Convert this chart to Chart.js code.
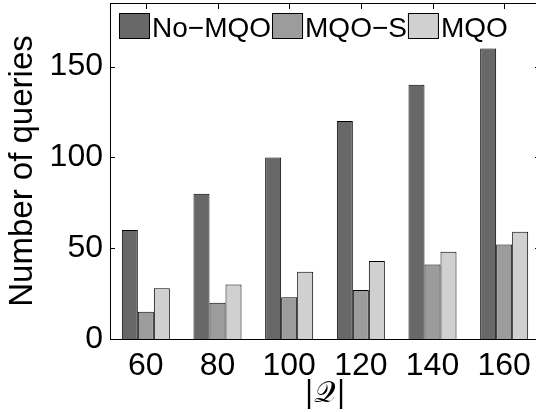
<!DOCTYPE html>
<html>
<head>
<meta charset="utf-8">
<script src="https://cdn.jsdelivr.net/npm/chart.js@4.4.0/dist/chart.umd.min.js"></script>
<style>
  html,body{margin:0;padding:0;background:#fff;overflow:hidden;}
  #wrap{width:541px;height:412px;}
</style>
</head>
<body>
<div id="wrap"><canvas id="cv"></canvas></div>
<script>
// Grouped bars: number of queries per |Q| for three strategies
const categories = ['60','80','100','120','140','160'];
const noMqo = [60, 80, 100, 120, 140, 160];
const mqoS  = [15, 20, 23, 27, 41, 52];
const mqo   = [28, 30, 37, 43, 48, 59];
const yTicks = [0, 50, 100, 150];
const seriesNames = ['No\u2212MQO', 'MQO\u2212S', 'MQO'];
const seriesColors = ['#686868', '#9c9c9c', '#d0d0d0'];

const FONT = '"Liberation Sans", Arial, Helvetica, sans-serif';

// MATLAB-like box: top line plus inward tick marks on all sides
const boxTicks = {
  id:'boxTicks',
  beforeDatasetsDraw(chart){
    const {ctx, chartArea:a, scales:{x, y}} = chart;
    ctx.save();
    ctx.strokeStyle = '#000';
    ctx.lineWidth = 1;
    ctx.beginPath();
    ctx.moveTo(a.left, a.top + 0.5); ctx.lineTo(a.right, a.top + 0.5);
    yTicks.forEach(v=>{
      const py = Math.round(y.getPixelForValue(v)) + 0.5;
      ctx.moveTo(a.left, py); ctx.lineTo(a.left + 5, py);
      ctx.moveTo(a.right, py); ctx.lineTo(a.right - 5, py);
    });
    categories.forEach((c, i)=>{
      const px = Math.round(x.getPixelForValue(i)) + 0.5;
      ctx.moveTo(px, a.top); ctx.lineTo(px, a.top + 6);
      ctx.moveTo(px, a.bottom); ctx.lineTo(px, a.bottom - 6);
    });
    ctx.stroke();
    ctx.restore();
  }
};

// tightly packed legend in the top-left corner, as in the original figure
const packedLegend = {
  id:'packedLegend',
  afterDraw(chart){
    const {ctx, chartArea:a} = chart;
    ctx.save();
    ctx.font = '28px ' + FONT;
    ctx.textBaseline = 'alphabetic';
    let x = a.left + 9;
    const top = a.top + 10, bw = 31, bh = 26;
    chart.data.datasets.forEach(ds=>{
      ctx.fillStyle = ds.backgroundColor;
      ctx.fillRect(x, top, bw, bh);
      ctx.strokeStyle = '#000';
      ctx.lineWidth = 1;
      ctx.strokeRect(x + 0.5, top + 0.5, bw - 1, bh - 1);
      x += bw + 2;
      ctx.fillStyle = '#000';
      ctx.fillText(ds.label, x, top + 24);
      x += ctx.measureText(ds.label).width + 1;
    });
    ctx.restore();
  }
};

const mk = (i, data)=>({
  label: seriesNames[i], data,
  backgroundColor: seriesColors[i],
  borderColor:'#000', borderWidth:1,
  barPercentage:1.0, categoryPercentage:0.67
});

new Chart(document.getElementById('cv'), {
  type:'bar',
  data:{
    labels: categories,
    datasets:[mk(0, noMqo), mk(1, mqoS), mk(2, mqo)]
  },
  plugins:[boxTicks, packedLegend],
  options:{
    responsive:true,
    maintainAspectRatio:false,
    animation:false,
    layout:{padding:{top:3, right:1, left:0, bottom:0}},
    plugins:{legend:{display:false}, tooltip:{enabled:false}},
    scales:{
      x:{
        grid:{display:false, drawTicks:false},
        border:{display:true, color:'#000', width:1},
        ticks:{color:'#000', font:{family:FONT, size:32}, padding:8, maxRotation:0},
        title:{display:true, text:'|\u{1D4AC}|', color:'#000',
               font:{family:'"DejaVu Serif", "Liberation Serif", serif', size:30}, padding:{top:-6, bottom:0}},
        afterFit(s){ s.height = 73; s.paddingLeft = 0; s.paddingRight = 0; }
      },
      y:{
        min:0, max:185,
        grid:{display:false, drawTicks:false},
        border:{display:true, color:'#000', width:1},
        ticks:{color:'#000', font:{family:FONT, size:32}, padding:7},
        afterBuildTicks(s){ s.ticks = yTicks.map(v=>({value:v})); },
        title:{display:true, text:'Number of queries', color:'#000',
               font:{family:FONT, size:33}, padding:{top:3, bottom:0}},
        afterFit(s){ s.width = 110; s.paddingTop = 0; s.paddingBottom = 0; }
      }
    }
  }
});
</script>
</body>
</html>
